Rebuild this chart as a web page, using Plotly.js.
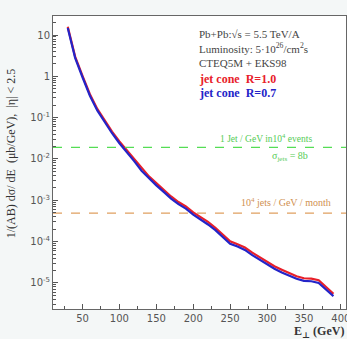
<!DOCTYPE html>
<html><head><meta charset="utf-8">
<script src="https://cdn.plot.ly/plotly-3.0.1.min.js"></script>
<style>body{margin:0;padding:0;background:#f4f7f7}</style>
</head><body><div id="chart" style="width:347px;height:339px"></div>
<script>
const energy = [30,40,50,60,70,80,90,100,110,120,130,140,150,160,170,180,190,200,210,220,230,240,250,260,270,280,290,300,310,320,330,340,350,360,370,380,390];
const sigmaR07 = [14.8,2.8,0.95,0.34,0.15,0.079,0.042,0.024,0.0148,0.0089,0.0052,0.0034,0.0023,0.0016,0.0011,8.1e-4,6.3e-4,4.5e-4,3.5e-4,2.6e-4,1.9e-4,1.3e-4,8.9e-5,7.6e-5,6.3e-5,4.7e-5,3.6e-5,2.8e-5,2.2e-5,1.8e-5,1.5e-5,1.26e-5,1.12e-5,1.1e-5,1.0e-5,7.1e-6,4.8e-6];
const sigmaR10 = [15.8,3.0,1.03,0.37,0.163,0.086,0.046,0.0265,0.0163,0.0098,0.0058,0.0038,0.0026,0.0018,0.00124,9.1e-4,7.1e-4,5.1e-4,4.0e-4,3.0e-4,2.15e-4,1.5e-4,1.02e-4,8.7e-5,7.2e-5,5.4e-5,4.2e-5,3.2e-5,2.55e-5,2.1e-5,1.72e-5,1.45e-5,1.3e-5,1.27e-5,1.17e-5,8.2e-6,5.5e-6];
const greenLevel = 0.019;
const orangeLevel = 4.9e-4;
const xRange = [10, 407];
const xTickVals = [50,100,150,200,250,300,350,400];
const xMinorVals = [25,75,125,175,225,275,325,375];
const yTickVals = [10,1,0.1,0.01,0.001,1e-4,1e-5];
const yTickText = ['10','1','10<sup>-1</sup>','10<sup>-2</sup>','10<sup>-3</sup>','10<sup>-4</sup>','10<sup>-5</sup>'];

// minor log ticks 2..9 per decade
const yMinorVals = [];
for (let e = -6; e <= 1; e++) for (let m = 2; m <= 9; m++) yMinorVals.push(m * Math.pow(10, e));

const serif = 'Liberation Serif, DejaVu Serif, serif';
const traces = [
  {x: energy, y: sigmaR10, mode:'lines', line:{color:'#e8202a', width:2.2}, name:'R=1.0', hoverinfo:'skip'},
  {x: energy, y: sigmaR07, mode:'lines', line:{color:'#2424c8', width:2.2}, name:'R=0.7', hoverinfo:'skip'},
  {x: xRange, y: [greenLevel, greenLevel], mode:'lines', line:{color:'#55dd55', width:1.2, dash:'dash'}, hoverinfo:'skip'},
  {x: xRange, y: [orangeLevel, orangeLevel], mode:'lines', line:{color:'#e0a060', width:1.2, dash:'dash'}, hoverinfo:'skip'}
];
const layout = {
  width:347, height:339,
  margin:{l:53, r:1, t:16, b:30},
  paper_bgcolor:'#f4f7f7', plot_bgcolor:'#ffffff',
  showlegend:false,
  font:{family:'DejaVu Sans, sans-serif', size:10, color:'#555'},
  xaxis:{range:xRange, tickvals:xTickVals, ticks:'inside', ticklen:5, tickcolor:'#555',
    showline:true, linecolor:'#666', linewidth:1, mirror:true, showgrid:false, zeroline:false,
    ticklabeloverflow:'allow',
    tickfont:{size:10, color:'#555'},
    minor:{tickvals:xMinorVals, ticks:'inside', ticklen:3, tickcolor:'#555', showgrid:false}},
  yaxis:{type:'log', range:[-5.63, 1.46], tickvals:yTickVals, ticktext:yTickText, ticks:'inside', ticklen:5, tickcolor:'#555',
    showline:true, linecolor:'#666', linewidth:1, mirror:true, showgrid:false, zeroline:false,
    tickfont:{size:10, color:'#555'},
    minor:{tickvals:yMinorVals, ticks:'inside', ticklen:3, tickcolor:'#555', showgrid:false}},
  annotations:[
    {xref:'paper', yref:'paper', x:-0.145, y:0.53, text:'1/(AB) dσ/ dE  (μb/GeV),  |η| < 2.5', textangle:-90, showarrow:false,
     font:{family:serif, size:12, color:'#333'}, xanchor:'center', yanchor:'middle'},
    {xref:'paper', yref:'paper', x:1.0, y:-0.08, text:'<b>E<sub>⊥</sub> (GeV)</b>', showarrow:false,
     font:{family:serif, size:12, color:'#333'}, xanchor:'right', yanchor:'middle'},
    {xref:'paper', yref:'paper', x:0.49, y:0.94, text:'Pb+Pb:√s = 5.5 TeV/A', showarrow:false, xanchor:'left', yanchor:'middle', font:{family:serif, size:11, color:'#444'}},
    {xref:'paper', yref:'paper', x:0.49, y:0.89, text:'Luminosity: 5·10<sup>26</sup>/cm<sup>2</sup>s', showarrow:false, xanchor:'left', yanchor:'middle', font:{family:serif, size:11, color:'#444'}},
    {xref:'paper', yref:'paper', x:0.49, y:0.84, text:'CTEQ5M + EKS98', showarrow:false, xanchor:'left', yanchor:'middle', font:{family:serif, size:11, color:'#444'}},
    {xref:'paper', yref:'paper', x:0.49, y:0.785, text:'<b>jet cone  R=1.0</b>', showarrow:false, xanchor:'left', yanchor:'middle', font:{family:serif, size:12, color:'#e8202a'}},
    {xref:'paper', yref:'paper', x:0.49, y:0.737, text:'<b>jet cone  R=0.7</b>', showarrow:false, xanchor:'left', yanchor:'middle', font:{family:serif, size:12, color:'#2424c8'}},
    {xref:'paper', yref:'paper', x:0.89, y:0.584, text:'1 Jet / GeV in10<sup>4</sup> events', showarrow:false, xanchor:'right', yanchor:'middle', font:{family:serif, size:9.5, color:'#55cc55'}},
    {xref:'paper', yref:'paper', x:0.877, y:0.519, text:'σ<sub>jets</sub> = 8b', showarrow:false, xanchor:'right', yanchor:'middle', font:{family:serif, size:10, color:'#55cc55'}},
    {xref:'paper', yref:'paper', x:0.955, y:0.365, text:'10<sup>4</sup> jets / GeV / month', showarrow:false, xanchor:'right', yanchor:'middle', font:{family:serif, size:10, color:'#d09050'}}
  ]
};
Plotly.newPlot('chart', traces, layout, {displayModeBar:false, staticPlot:true});
</script></body></html>
